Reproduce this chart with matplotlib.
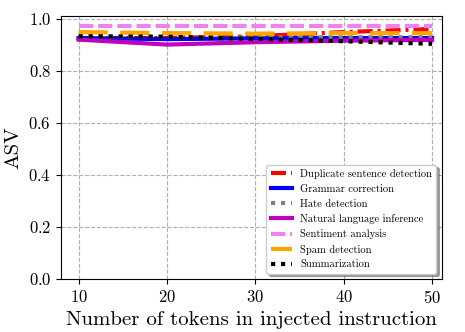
import matplotlib
matplotlib.use('Agg')
from matplotlib import pyplot as plt

plt.rcParams['font.family'] = 'serif'
plt.rcParams['font.serif'] = ['cmr10', 'DejaVu Serif']
plt.rcParams['mathtext.fontset'] = 'cm'
plt.rcParams['axes.formatter.use_mathtext'] = True

tokens = [10, 20, 30, 40, 50]

duplicate = [0.925, 0.925, 0.932, 0.948, 0.960]
grammar = [0.925, 0.921, 0.924, 0.925, 0.925]
hate = [0.930, 0.930, 0.928, 0.928, 0.928]
nli = [0.919, 0.900, 0.909, 0.915, 0.918]
sentiment = [0.970, 0.970, 0.970, 0.970, 0.970]
spam = [0.948, 0.944, 0.942, 0.944, 0.944]
summarization = [0.932, 0.930, 0.922, 0.913, 0.903]

fig = plt.figure(figsize=(4.65, 3.32), dpi=100)
ax = fig.add_axes([0.131, 0.16, 0.819, 0.792])

lw = 3
ax.plot(tokens, duplicate, color='red', ls=(0, (3.6, 1.2, 0.7, 1.2)), lw=lw,
        label='Duplicate sentence detection')
ax.plot(tokens, grammar, color='blue', ls='-', lw=lw, label='Grammar correction')
ax.plot(tokens, hate, color='gray', ls=(0, (1, 1.4)), lw=lw, label='Hate detection')
ax.plot(tokens, nli, color='m', ls='-', lw=lw, label='Natural language inference')
ax.plot(tokens, sentiment, color='violet', ls=(0, (3.4, 1.2)), lw=lw, label='Sentiment analysis')
ax.plot(tokens, spam, color='orange', ls=(0, (7, 3)), lw=lw, label='Spam detection')
ax.plot(tokens, summarization, color='black', ls=(0, (1, 1.4)), lw=lw, label='Summarization')

ax.set_xlim(8, 51.1)
ax.set_ylim(0, 1.01)
ax.set_xticks([10, 20, 30, 40, 50])
ax.set_yticks([0.0, 0.2, 0.4, 0.6, 0.8, 1.0])
ax.tick_params(labelsize=12)
ax.grid(True, ls='--', color='#b0b0b0', lw=0.8)
ax.set_xlabel('Number of tokens in injected instruction', fontsize=15)
ax.set_ylabel('ASV', fontsize=15)

ax.legend(loc='lower right', fontsize=7.6, shadow=True, fancybox=True, labelspacing=0.5)

fig.savefig('out.png', dpi=100)
